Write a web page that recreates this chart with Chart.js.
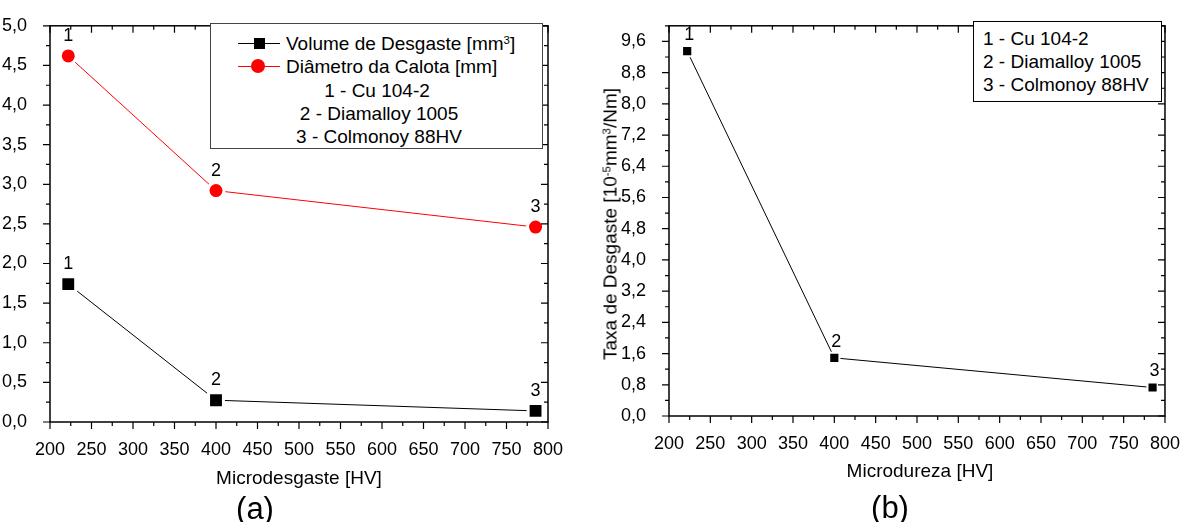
<!DOCTYPE html>
<html>
<head>
<meta charset="utf-8">
<script src="https://cdn.jsdelivr.net/npm/chart.js@4.4.1/dist/chart.umd.min.js"></script>
<style>
  body { margin: 0; background: #fff; width: 1189px; height: 522px; overflow: hidden; position: relative;
         font-family: "Liberation Sans", Arial, sans-serif; color: #000; }
  canvas { position: absolute; top: 0; }
  #chartA { left: 0; }
  #chartB { left: 594px; }
  .t { position: absolute; white-space: nowrap; line-height: 1; }
  .c { transform: translate(-50%, -50%); }
  .box { position: absolute; background: #fff; box-sizing: border-box; }
  .ln { position: absolute; height: 1px; }
  sup { font-size: 60%; vertical-align: 0; position: relative; top: -0.55em; }
</style>
</head>
<body>
<canvas id="chartA" width="594" height="522"></canvas>
<canvas id="chartB" width="595" height="522"></canvas>

<!-- legend (a) -->
<div class="box" style="left:210px;top:23px;width:333px;height:126px;border:1.5px solid #444;"></div>
<div class="ln" style="left:238px;top:43px;width:42px;background:#000;"></div>
<div class="box" style="left:254px;top:38px;width:11px;height:11px;background:#000;"></div>
<div class="t" style="left:286px;top:34px;font-size:19px;">Volume de Desgaste [mm<sup>3</sup>]</div>
<div class="ln" style="left:238px;top:66px;width:42px;background:#f00;"></div>
<div class="box" style="left:251px;top:59px;width:14px;height:14px;border-radius:50%;background:#f00;"></div>
<div class="t" style="left:286px;top:57px;font-size:19px;">Diâmetro da Calota [mm]</div>
<div class="t c" style="left:377px;top:90px;font-size:19px;">1 - Cu 104-2</div>
<div class="t c" style="left:379px;top:113px;font-size:19px;">2 - Diamalloy 1005</div>
<div class="t c" style="left:379px;top:136px;font-size:19px;">3 - Colmonoy 88HV</div>

<!-- legend (b) -->
<div class="box" style="left:973px;top:21px;width:189px;height:81px;border:1px solid #000;"></div>
<div class="t" style="left:983px;top:29px;font-size:19px;">1 - Cu 104-2</div>
<div class="t" style="left:983px;top:52px;font-size:19px;">2 - Diamalloy 1005</div>
<div class="t" style="left:983px;top:75px;font-size:19px;">3 - Colmonoy 88HV</div>

<!-- axis titles and captions -->
<div class="t c" style="left:299px;top:477px;font-size:19px;">Microdesgaste [HV]</div>
<div class="t c" style="left:255px;top:508px;font-size:31px;">(a)</div>
<div class="t c" style="left:610px;top:224px;font-size:19px;transform:translate(-50%,-50%) rotate(-90deg);">Taxa de Desgaste [10<sup>-5</sup>mm<sup>3</sup>/Nm]</div>
<div class="t c" style="left:920px;top:470px;font-size:19px;">Microdureza [HV]</div>
<div class="t c" style="left:890px;top:507px;font-size:31px;">(b)</div>

<script>
// Chart (a): wear volume and cap diameter vs micro-hardness
const hardnessA = [222, 400, 785];
const volumeA = [1.74, 0.275, 0.14];
const diameterA = [4.62, 2.92, 2.46];

// Chart (b): wear rate vs micro-hardness
const hardnessB = [222, 400, 785];
const rateB = [9.35, 1.49, 0.73];

// Point numbers written above the markers
const pointNums = ['1', '2', '3'];

// Tick labels
const xTicks = [200, 250, 300, 350, 400, 450, 500, 550, 600, 650, 700, 750, 800];
const yTicksA = [0, 0.5, 1, 1.5, 2, 2.5, 3, 3.5, 4, 4.5, 5];
const yTicksB = [0, 0.8, 1.6, 2.4, 3.2, 4, 4.8, 5.6, 6.4, 7.2, 8, 8.8, 9.6];

const FONT = 'Liberation Sans, Arial, sans-serif';
const comma = v => Number(v).toFixed(1).replace('.', ',');
const toXY = (xs, ys) => xs.map((x, i) => ({ x: x, y: ys[i] }));

// Frame on all four sides + Origin-style ticks (out on bottom/left, in on top/right)
const frameTicks = {
    id: 'frameTicks',
    afterDraw(chart) {
        const { ctx, chartArea: { left, right, top, bottom }, scales: { x, y } } = chart;
        ctx.save();
        ctx.strokeStyle = '#000';
        ctx.lineWidth = 1.5;
        ctx.strokeRect(left, top, right - left, bottom - top);
        ctx.lineWidth = 1.2;
        ctx.beginPath();
        const xv = x.ticks.map(t => t.value);
        xv.forEach((v, i) => {
            const px = x.getPixelForValue(v);
            ctx.moveTo(px, bottom); ctx.lineTo(px, bottom + 7);
            ctx.moveTo(px, top); ctx.lineTo(px, top + 7);
            if (i < xv.length - 1) {
                const mx = x.getPixelForValue((v + xv[i + 1]) / 2);
                ctx.moveTo(mx, bottom); ctx.lineTo(mx, bottom + 4);
                ctx.moveTo(mx, top); ctx.lineTo(mx, top + 4);
            }
        });
        const yv = y.ticks.map(t => t.value);
        const half = (yv[1] - yv[0]) / 2;
        yv.forEach(v => {
            const py = y.getPixelForValue(v);
            ctx.moveTo(left, py); ctx.lineTo(left - 7, py);
            ctx.moveTo(right, py); ctx.lineTo(right - 7, py);
            if (v + half <= y.max) {
                const my = y.getPixelForValue(v + half);
                ctx.moveTo(left, my); ctx.lineTo(left - 4, my);
                ctx.moveTo(right, my); ctx.lineTo(right - 4, my);
            }
        });
        ctx.stroke();
        ctx.restore();
    }
};

// Numbers above each marker
const pointNumbers = {
    id: 'pointNumbers',
    afterDatasetsDraw(chart, args, opts) {
        const { ctx } = chart;
        ctx.save();
        ctx.fillStyle = '#000';
        ctx.font = '18px ' + FONT;
        ctx.textAlign = 'center';
        ctx.textBaseline = 'middle';
        chart.data.datasets.forEach((ds, di) => {
            chart.getDatasetMeta(di).data.forEach((pt, i) => {
                ctx.fillText(pointNums[i], pt.x + (opts.dx || 0), pt.y - opts.dy);
            });
        });
        ctx.restore();
    }
};

function axes(yTicks, yMax, yWidth, xHeight, yPad) {
    return {
        x: {
            type: 'linear', min: 200, max: 800,
            afterBuildTicks: s => { s.ticks = xTicks.map(v => ({ value: v })); },
            afterFit: s => { s.height = xHeight; },
            grid: { display: false },
            border: { display: false },
            ticks: { color: '#000', font: { family: FONT, size: 18 }, padding: 9,
                     autoSkip: false, maxRotation: 0, callback: v => String(v) }
        },
        y: {
            type: 'linear', min: 0, max: yMax,
            afterBuildTicks: s => { s.ticks = yTicks.map(v => ({ value: v })); },
            afterFit: s => { s.width = yWidth; },
            grid: { display: false },
            border: { display: false },
            ticks: { color: '#000', font: { family: FONT, size: 18 }, padding: yPad,
                     callback: v => comma(v) }
        }
    };
}

new Chart(document.getElementById('chartA'), {
    type: 'scatter',
    data: {
        datasets: [
            {
                label: 'Volume de Desgaste [mm³]',
                data: toXY(hardnessA, volumeA),
                showLine: true,
                borderColor: '#000', borderWidth: 1,
                pointStyle: 'rect', pointRadius: 10.5,
                pointBackgroundColor: '#000', pointBorderColor: '#fff', pointBorderWidth: 3
            },
            {
                label: 'Diâmetro da Calota [mm]',
                data: toXY(hardnessA, diameterA),
                showLine: true,
                borderColor: '#f00', borderWidth: 1,
                pointStyle: 'circle', pointRadius: 8,
                pointBackgroundColor: '#f00', pointBorderColor: '#fff', pointBorderWidth: 3
            }
        ]
    },
    options: {
        responsive: false,
        animation: false,
        layout: { padding: { left: 0, top: 22, right: 46, bottom: 0 } },
        plugins: { legend: { display: false }, tooltip: { enabled: false }, pointNumbers: { dy: 20 } },
        scales: axes(yTicksA, 5, 50, 100, 15)
    },
    plugins: [frameTicks, pointNumbers]
});

new Chart(document.getElementById('chartB'), {
    type: 'scatter',
    data: {
        datasets: [
            {
                label: 'Taxa de Desgaste',
                data: toXY(hardnessB, rateB),
                showLine: true,
                borderColor: '#000', borderWidth: 1,
                pointStyle: 'rect', pointRadius: 7.2,
                pointBackgroundColor: '#000', pointBorderColor: '#fff', pointBorderWidth: 2
            }
        ]
    },
    options: {
        responsive: false,
        animation: false,
        layout: { padding: { left: 0, top: 12, right: 18, bottom: 0 } },
        plugins: { legend: { display: false }, tooltip: { enabled: false }, pointNumbers: { dy: 16, dx: 2 } },
        scales: axes(yTicksB, 10, 75, 106, 15)
    },
    plugins: [frameTicks, pointNumbers]
});
</script>
</body>
</html>
